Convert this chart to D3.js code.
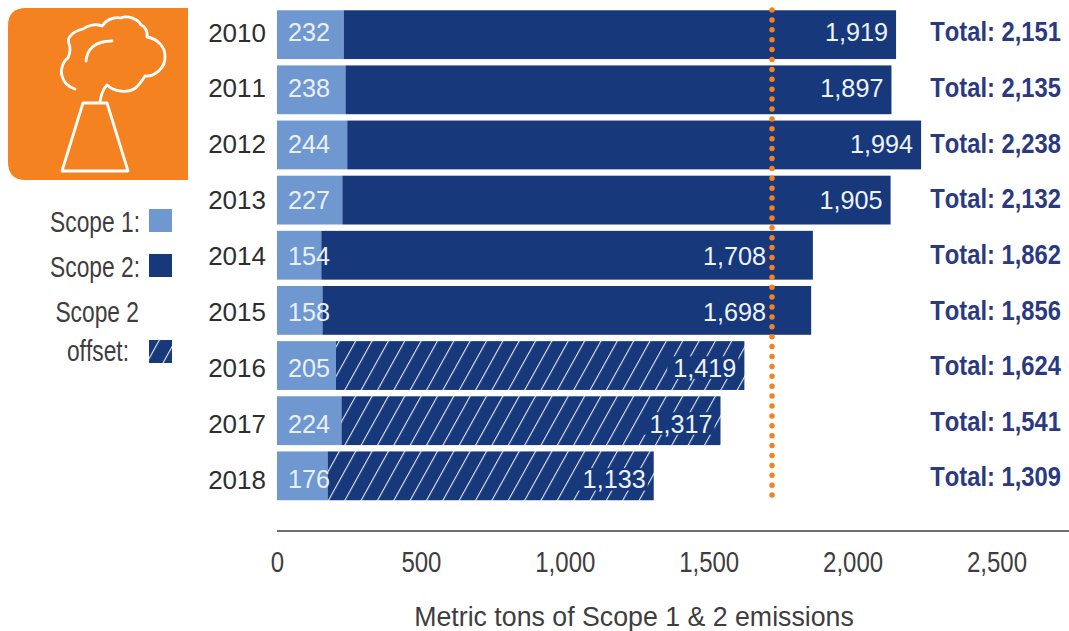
<!DOCTYPE html>
<html><head><meta charset="utf-8">
<script src="https://cdn.jsdelivr.net/npm/d3@7"></script>
<style>html,body{margin:0;background:#fff}svg{display:block}text{font-family:"Liberation Sans",sans-serif;font-kerning:none}</style>
</head><body><svg id="c" width="1069" height="631"></svg>
<script>
const years=[2010,2011,2012,2013,2014,2015,2016,2017,2018];
const scope1=[232,238,244,227,154,158,205,224,176];
const scope2=[1919,1897,1994,1905,1708,1698,1419,1317,1133];
const totals=[2151,2135,2238,2132,1862,1856,1624,1541,1309];
const offsetYears=[2016,2017,2018];
const targetValue=1720;
const xTicks=[0,500,1000,1500,2000,2500];
const axisTitle="Metric tons of Scope 1 & 2 emissions";

const DARK="#17397c",LIGHT="#6f97d0",ORANGE="#f58220",INK="#3f3d3e",NAVY="#2b3a80";
const svg=d3.select("#c");
const x=d3.scaleLinear().domain([0,2500]).range([277,996.5]);
const y=d3.scaleBand().domain(years).range([7.5,503]).paddingInner(0.115).paddingOuter(0.05);
const yLabel=d3.scalePoint().domain(years).range([32,479]);
const yTotal=d3.scalePoint().domain(years).range([32,477]);
const fmt=d3.format(",");
// squeeze a text horizontally about its anchor: the reference uses a condensed face
function squeeze(sel,f){sel.each(function(){const a=+this.getAttribute("x")||0;this.setAttribute("transform",`translate(${a},0) scale(${f},1) translate(${-a},0)`);});return sel;}

const defs=svg.append("defs");
const pat=defs.append("pattern").attr("id","hatch").attr("patternUnits","userSpaceOnUse")
 .attr("width",14.3).attr("height",14.3).attr("patternTransform","translate(11.6,0) rotate(29)");
pat.append("rect").attr("width",14.3).attr("height",14.3).attr("fill",DARK);
pat.append("line").attr("x1",0).attr("x2",0).attr("y1",0).attr("y2",14.3).attr("stroke","#dfe6f2").attr("stroke-width",2.2);

// icon
svg.append("path").attr("fill",ORANGE)
 .attr("d","M188 8H26Q8 8 8 26V162Q8 180 26 180H188Z");
const icon=svg.append("g").attr("fill","none").attr("stroke","#fff").attr("stroke-width",2.8).attr("stroke-linejoin","round").attr("stroke-linecap","round");
icon.append("path").attr("d","M83 103H107L128 171H62Z");
icon.append("path").attr("d","M100 102C101 95 103 89 107 85C114 92 128 93 134 89C139 86 141 82 145 76C154 77 166 68 165 56C165 47 158 39 147 37C148 30 144 26 141 25C138 19 128 15 121 18C113 16 105 21 102 26C95 23 87 26 83 29C75 31 66 36 69 44C71 48 70 53 68 58C63 61 60 70 62 76C64 83 68 87 75 89");
icon.append("path").attr("d","M86 61C87 50 94 41 112 41");

// bars
const rows=svg.append("g").selectAll("g").data(years).join("g").attr("transform",d=>`translate(0,${y(d)})`);
rows.append("rect").attr("x",x(0)).attr("width",(d,i)=>x(scope1[i])-x(0)).attr("height",y.bandwidth()).attr("fill",LIGHT);
rows.append("rect").attr("x",(d,i)=>x(scope1[i])).attr("width",(d,i)=>x(totals[i])-x(scope1[i])).attr("height",y.bandwidth())
 .attr("fill",d=>offsetYears.includes(d)?"url(#hatch)":DARK);

const labels=svg.append("g");
const base=9.5;
labels.selectAll(".s1").data(years).join("text").attr("x",x(0)+11).attr("y",d=>yLabel(d)+base).attr("fill","#e9f0fa").attr("font-size",26).text((d,i)=>scope1[i]).call(squeeze,0.97);
const s2=labels.selectAll(".s2").data(years).join("text").attr("text-anchor","end").attr("y",d=>yLabel(d)+base).attr("fill","#eef2fa").attr("font-size",26)
 .attr("x",(d,i)=>{const e=x(totals[i])-8,t=x(targetValue);return (e-65<t&&e+6>t)?t-6:e;})
 .text((d,i)=>fmt(scope2[i])).call(squeeze,0.97);
// the hatching is cleared behind the labels of the offset years
s2.filter(d=>offsetYears.includes(d)).each(function(){const b=this.getBBox();
 labels.insert("rect",":first-child").attr("x",b.x-4).attr("y",b.y+3).attr("width",b.width+6).attr("height",b.height-6).attr("fill",DARK);});
labels.selectAll(".yr").data(years).join("text").attr("x",266).attr("text-anchor","end").attr("y",d=>yLabel(d)+base).attr("fill","#2f2d2e").attr("font-size",26).text(d=>d);
labels.selectAll(".tot").data(years).join("text").attr("x",1061).attr("text-anchor","end").attr("y",d=>yTotal(d)+base).attr("fill",NAVY).attr("font-size",27).attr("font-weight","bold").text((d,i)=>"Total: "+fmt(totals[i])).call(squeeze,0.88);

// target line
svg.append("line").attr("x1",x(targetValue)).attr("x2",x(targetValue)).attr("y1",10).attr("y2",496)
 .attr("stroke",ORANGE).attr("stroke-width",5.5).attr("stroke-linecap","round").attr("stroke-dasharray","0 9.9");

// axis
const ax=svg.append("g").attr("transform","translate(0,531)").call(d3.axisBottom(x).tickValues(xTicks).tickFormat(fmt).tickSize(0).tickPadding(20));
ax.select(".domain").attr("d","M277,0H1069").attr("stroke",INK).attr("stroke-width",1.5);
ax.selectAll("text").attr("font-size",30).attr("fill",INK).attr("style","font-family:'Liberation Sans'").call(squeeze,0.8);
svg.append("text").attr("x",634).attr("y",626).attr("text-anchor","middle").attr("font-size",28).attr("fill",INK).text(axisTitle).call(squeeze,0.955);

// legend
const lg=svg.append("g");
const lt=(tx,ty,s)=>lg.append("text").attr("x",tx).attr("y",ty).attr("text-anchor","end").attr("font-size",30).attr("fill",INK).text(s).call(squeeze,0.76);
lt(140,232,"Scope 1:");lt(140,277,"Scope 2:");lt(139,322,"Scope 2");lt(129,361,"offset:");
const sw=(ty,f)=>lg.append("g").attr("transform",`translate(0,${ty})`).append("rect").attr("x",149).attr("width",23).attr("height",23).attr("fill",f);
sw(209,LIGHT);sw(254,DARK);sw(340,"url(#hatch)");
</script></body></html>
